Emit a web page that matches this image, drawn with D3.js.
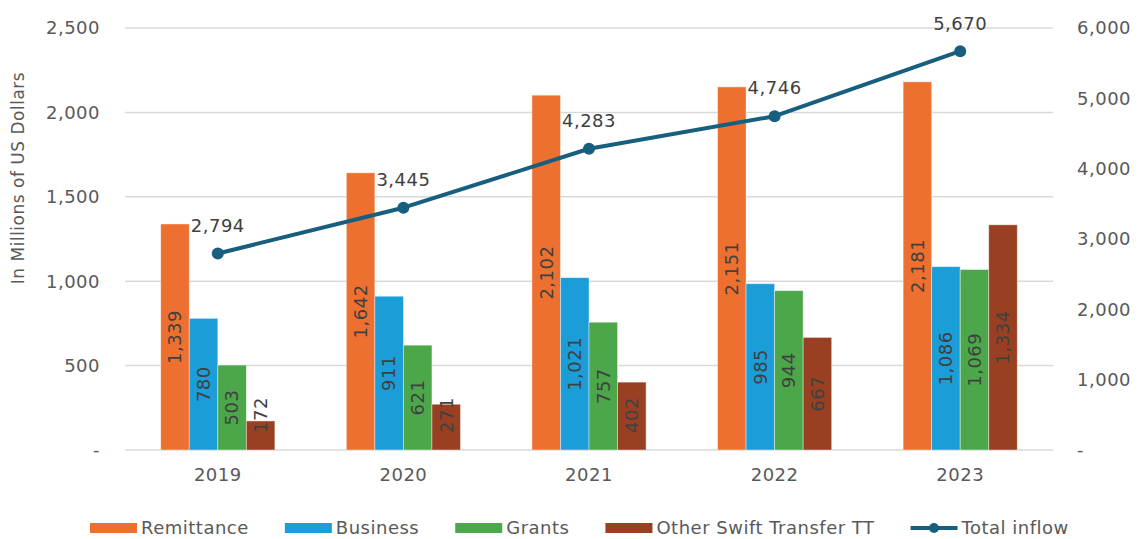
<!DOCTYPE html>
<html>
<head>
<meta charset="utf-8">
<script src="https://cdn.jsdelivr.net/npm/d3@7"></script>
<style>
  body { margin: 0; background: #fff; }
  text { font-family: "DejaVu Sans", sans-serif; fill: #595959; letter-spacing: 0.5px; }
</style>
</head>
<body>
<div id="chart"></div>
<script>
// Data
var years = ["2019", "2020", "2021", "2022", "2023"];
var remittance = [1339, 1642, 2102, 2151, 2181];
var business = [780, 911, 1021, 985, 1086];
var grants = [503, 621, 757, 944, 1069];
var otherSwift = [172, 271, 402, 667, 1334];
var totalInflow = [2794, 3445, 4283, 4746, 5670];
var leftTicks = [0, 500, 1000, 1500, 2000, 2500];
var rightTicks = [0, 1000, 2000, 3000, 4000, 5000, 6000];

var seriesNames = ["Remittance", "Business", "Grants", "Other Swift Transfer TT"];
var seriesData = [remittance, business, grants, otherSwift];
var colors = ["#ED7031", "#1B9DD8", "#4BA74A", "#9A4022"];
var lineColor = "#175E7F";

var W = 1140, H = 539;
var plotL = 125, plotR = 1053, plotT = 28, plotB = 450;

var svg = d3.select("#chart").append("svg").attr("width", W).attr("height", H);
var fmt = d3.format(",");

var x0 = d3.scaleBand().domain(years).range([plotL, plotR]).paddingInner(0.385).paddingOuter(0.1925);
var x1 = d3.scaleBand().domain(d3.range(seriesNames.length)).range([0, x0.bandwidth()]);
var yL = d3.scaleLinear().domain([0, 2500]).range([plotB, plotT]);
var yR = d3.scaleLinear().domain([0, 6000]).range([plotB, plotT]);

// gridlines
svg.append("g").selectAll("line").data(leftTicks).join("line")
  .attr("x1", plotL).attr("x2", plotR)
  .attr("y1", function (d) { return yL(d); }).attr("y2", function (d) { return yL(d); })
  .attr("stroke", "#d9d9d9").attr("stroke-width", 1.5);

// left axis labels
svg.append("g").selectAll("text").data(leftTicks).join("text")
  .attr("x", 100).attr("y", function (d) { return yL(d); })
  .attr("dy", "0.35em").attr("text-anchor", "end").attr("font-size", 18)
  .text(function (d) { return d === 0 ? "-" : fmt(d); });

// right axis labels
svg.append("g").selectAll("text").data(rightTicks).join("text")
  .attr("x", 1077).attr("y", function (d) { return yR(d); })
  .attr("dy", "0.35em").attr("text-anchor", "start").attr("font-size", 18)
  .text(function (d) { return d === 0 ? "-" : fmt(d); });

// y title
svg.append("text")
  .attr("transform", "translate(24,178) rotate(-90)")
  .attr("text-anchor", "middle").attr("font-size", 17)
  .text("In Millions of US Dollars");

// x labels
svg.append("g").selectAll("text").data(years).join("text")
  .attr("x", function (d) { return x0(d) + x0.bandwidth() / 2; })
  .attr("y", 475).attr("dy", "0.35em").attr("text-anchor", "middle").attr("font-size", 18)
  .text(function (d) { return d; });

// bars
var cells = [];
seriesData.forEach(function (arr, si) {
  arr.forEach(function (v, i) { cells.push({ s: si, year: years[i], v: v }); });
});

svg.append("g").selectAll("rect").data(cells).join("rect")
  .attr("x", function (d) { return x0(d.year) + x1(d.s); })
  .attr("width", x1.bandwidth())
  .attr("y", function (d) { return yL(d.v); })
  .attr("height", function (d) { return plotB - yL(d.v); })
  .attr("fill", function (d) { return colors[d.s]; })
  .attr("stroke", "#ffffff").attr("stroke-opacity", 0.5).attr("stroke-width", 0.8);

// bar value labels (rotated)
svg.append("g").selectAll("text").data(cells).join("text")
  .attr("transform", function (d) {
    var cx = x0(d.year) + x1(d.s) + x1.bandwidth() / 2;
    var cy = Math.min((yL(d.v) + plotB) / 2, plotB - 35);
    return "translate(" + cx + "," + cy + ") rotate(-90)";
  })
  .attr("text-anchor", "middle").attr("dy", "0.35em").attr("font-size", 18)
  .style("fill", "#404040")
  .text(function (d) { return fmt(d.v); });

// total inflow line
var line = d3.line()
  .x(function (d, i) { return x0(years[i]) + x0.bandwidth() / 2; })
  .y(function (d) { return yR(d); });

svg.append("path").datum(totalInflow)
  .attr("d", line).attr("fill", "none")
  .attr("stroke", lineColor).attr("stroke-width", 4).attr("stroke-linejoin", "round");

svg.append("g").selectAll("circle").data(totalInflow).join("circle")
  .attr("cx", function (d, i) { return x0(years[i]) + x0.bandwidth() / 2; })
  .attr("cy", function (d) { return yR(d); })
  .attr("r", 6).attr("fill", lineColor);

svg.append("g").selectAll("text").data(totalInflow).join("text")
  .attr("x", function (d, i) { return x0(years[i]) + x0.bandwidth() / 2; })
  .attr("y", function (d) { return yR(d) - 28; })
  .attr("dy", "0.35em").attr("text-anchor", "middle").attr("font-size", 18)
  .style("fill", "#404040")
  .text(function (d) { return fmt(d); });

// legend
var legend = svg.append("g");
var lx = 90, ly = 528;
var legendItems = seriesNames.map(function (n, i) { return { name: n, color: colors[i], type: "rect" }; });
legendItems.push({ name: "Total inflow", color: lineColor, type: "line" });

legendItems.forEach(function (it) {
  if (it.type === "rect") {
    legend.append("rect").attr("x", lx).attr("y", ly - 5).attr("width", 47).attr("height", 10).attr("fill", it.color);
  } else {
    legend.append("line").attr("x1", lx).attr("x2", lx + 47).attr("y1", ly).attr("y2", ly)
      .attr("stroke", it.color).attr("stroke-width", 4);
    legend.append("circle").attr("cx", lx + 23.5).attr("cy", ly).attr("r", 5).attr("fill", it.color);
  }
  var t = legend.append("text").attr("x", lx + 51).attr("y", ly).attr("dy", "0.35em")
    .attr("font-size", 18).text(it.name);
  lx += 51 + t.node().getComputedTextLength() + 36;
});
</script>
</body>
</html>
